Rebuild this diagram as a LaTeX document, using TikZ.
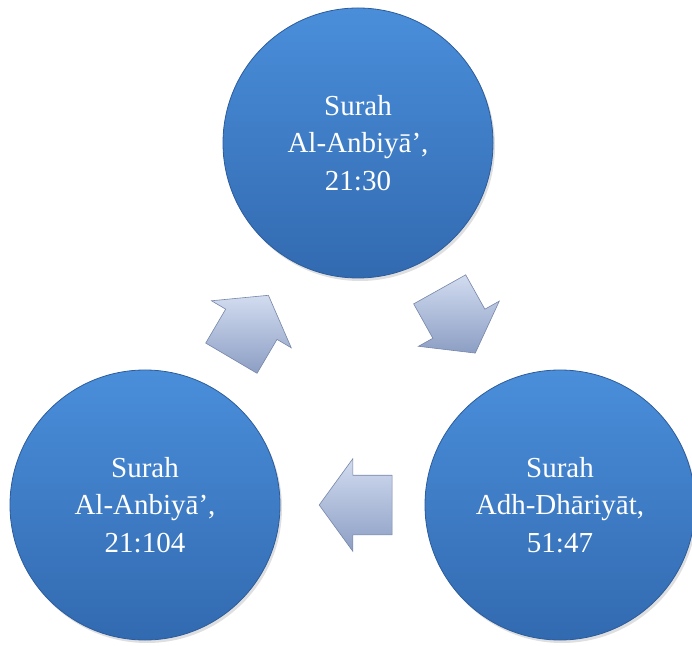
\documentclass[tikz,border=0pt]{standalone}
\usepackage{fontspec}
\setmainfont{Liberation Serif}
\usetikzlibrary{shapes.arrows,calc,shadows}

\definecolor{surahtop}{RGB}{74,142,218}
\definecolor{surahbot}{RGB}{50,106,176}
\definecolor{surahrim}{RGB}{44,92,156}
\definecolor{arrowtop}{RGB}{210,220,240}
\definecolor{arrowbot}{RGB}{140,158,196}
\definecolor{arrowrim}{RGB}{118,134,168}

\tikzset{
  surah/.style={circle, minimum size=270pt, inner sep=0pt,
    top color=surahtop, bottom color=surahbot, draw=surahrim, line width=0.8pt,
    text=white, align=center, font=\fontsize{29}{37.5}\selectfont,
    drop shadow={opacity=0.25, shadow xshift=2pt, shadow yshift=-3pt}},
  blockarrow/.style={single arrow, draw=arrowrim, line width=0.6pt,
    top color=arrowtop, bottom color=arrowbot,
    minimum height=73pt, inner xsep=0pt, inner ysep=29.5pt,
    single arrow head extend=16.5pt, single arrow tip angle=108}
}

\begin{document}
\begin{tikzpicture}[x=1pt,y=1pt]
  \useasboundingbox (0,0) rectangle (692,645);

  % the three verses
  \node[surah] (top) at (358,502) {Surah\\Al-Anbiyā’,\\21:30};
  \node[surah] (left) at (145,140) {Surah\\Al-Anbiyā’,\\21:104};
  \node[surah] (right) at (560,140) {Surah\\Adh-Dhāriyāt,\\51:47};

  % block arrows between them
  \node[blockarrow, rotate=59.5] (upArrow) at ($($(left)!0.5!(top)$)!14pt!(left)$) {};
  \node[blockarrow, rotate=-60.8] (downArrow) at ($($(top)!0.5!(right)$)!14pt!(top)$) {};
  \node[blockarrow, rotate=180] (backArrow) at ($($(right)!0.5!(left)$)!14pt!(right)$) {};
\end{tikzpicture}
\end{document}
